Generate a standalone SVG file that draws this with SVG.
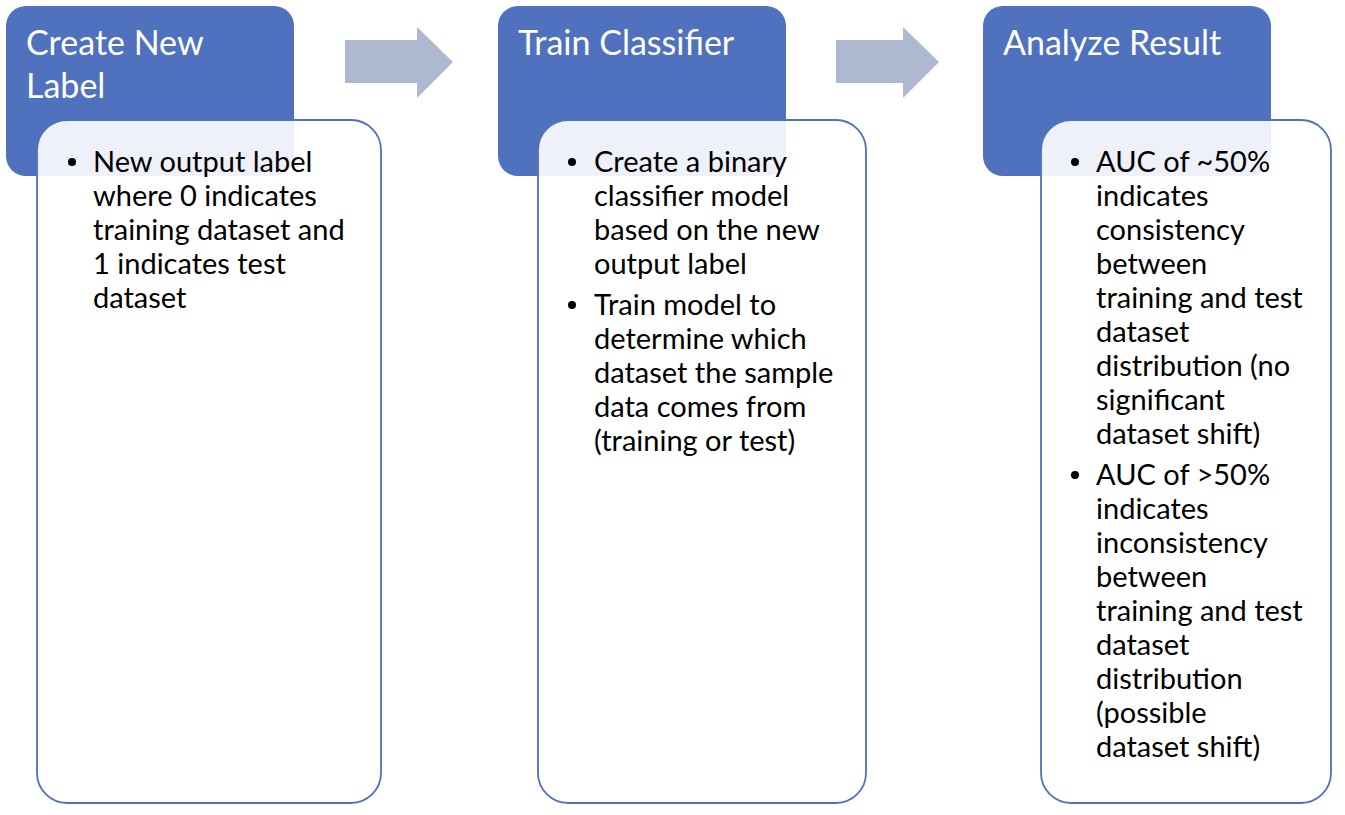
<svg xmlns="http://www.w3.org/2000/svg" width="1345" height="815" viewBox="0 0 1345 815">
<style>
.hdr{fill:#4F71BE}
.body{fill:#FFFFFF;fill-opacity:0.9;stroke:#4F71BE;stroke-width:1.8}
.ttl{font-family:Lato,'Open Sans',sans-serif;font-size:34px;fill:#FFFFFF}
.txt{font-family:Lato,'Open Sans',sans-serif;font-size:29px;fill:#000000}
.blt{fill:#000000}
.arr{fill:#AEB8D0}
</style>
<rect width="1345" height="815" fill="#FFFFFF"/>
<g id="step1">
<rect class="hdr" x="6" y="6" width="288" height="170" rx="20"/>
<text class="ttl" x="26" y="55">Create New</text>
<text class="ttl" x="26" y="98">Label</text>
<rect class="body" x="37" y="120" width="344" height="683" rx="30"/>
<circle class="blt" cx="72" cy="162" r="4"/>
<text class="txt" x="93" y="172">New output label</text>
<text class="txt" x="93" y="206">where 0 indicates</text>
<text class="txt" x="93" y="240">training dataset and</text>
<text class="txt" x="93" y="274">1 indicates test</text>
<text class="txt" x="93" y="308">dataset</text>
</g>
<g id="step2">
<rect class="hdr" x="498" y="6" width="288" height="170" rx="20"/>
<text class="ttl" x="518" y="55">Train Classifier</text>
<rect class="body" x="538" y="120" width="328" height="683" rx="30"/>
<circle class="blt" cx="572" cy="162" r="4"/>
<text class="txt" x="594" y="172">Create a binary</text>
<text class="txt" x="594" y="206">classifier model</text>
<text class="txt" x="594" y="240">based on the new</text>
<text class="txt" x="594" y="274">output label</text>
<circle class="blt" cx="572" cy="305" r="4"/>
<text class="txt" x="594" y="315">Train model to</text>
<text class="txt" x="594" y="349">determine which</text>
<text class="txt" x="594" y="383">dataset the sample</text>
<text class="txt" x="594" y="417">data comes from</text>
<text class="txt" x="594" y="451">(training or test)</text>
</g>
<g id="step3">
<rect class="hdr" x="983" y="6" width="288" height="170" rx="20"/>
<text class="ttl" x="1003" y="55">Analyze Result</text>
<rect class="body" x="1041" y="120" width="290" height="683" rx="30"/>
<circle class="blt" cx="1075" cy="162" r="4"/>
<text class="txt" x="1096" y="172">AUC of ~50%</text>
<text class="txt" x="1096" y="206">indicates</text>
<text class="txt" x="1096" y="240">consistency</text>
<text class="txt" x="1096" y="274">between</text>
<text class="txt" x="1096" y="308">training and test</text>
<text class="txt" x="1096" y="342">dataset</text>
<text class="txt" x="1096" y="376">distribution (no</text>
<text class="txt" x="1096" y="410">significant</text>
<text class="txt" x="1096" y="444">dataset shift)</text>
<circle class="blt" cx="1075" cy="475" r="4"/>
<text class="txt" x="1096" y="485">AUC of &gt;50%</text>
<text class="txt" x="1096" y="519">indicates</text>
<text class="txt" x="1096" y="553">inconsistency</text>
<text class="txt" x="1096" y="587">between</text>
<text class="txt" x="1096" y="621">training and test</text>
<text class="txt" x="1096" y="655">dataset</text>
<text class="txt" x="1096" y="689">distribution</text>
<text class="txt" x="1096" y="723">(possible</text>
<text class="txt" x="1096" y="757">dataset shift)</text>
</g>
<g id="connectors">
<polygon class="arr" points="345,40 417,40 417,27 453,62 417,98 417,83 345,83"/>
<polygon class="arr" points="836,40 903,40 903,27 939,62 903,98 903,83 836,83"/>
</g>
</svg>
